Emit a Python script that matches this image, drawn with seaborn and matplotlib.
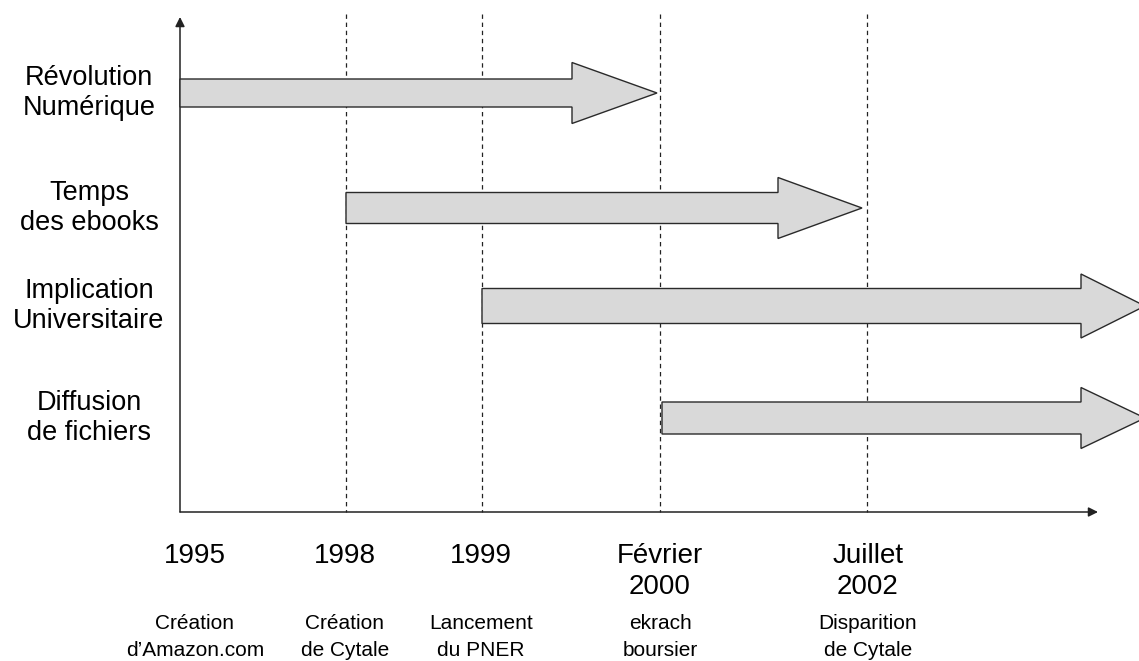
import matplotlib
matplotlib.use("Agg")
import matplotlib.pyplot as plt
import seaborn as sns

# Timeline events (positions, in pixel units of the chart)
event_x = [180, 346, 482, 660, 867]
event_label_x = [195, 345, 481, 660, 868]
event_dates = ["1995", "1998", "1999", "Février\n2000", "Juillet\n2002"]
event_notes = ["Création\nd’Amazon.com", "Création\nde Cytale", "Lancement\ndu PNER",
               "ekrach\nboursier", "Disparition\nde Cytale"]

# Periods drawn as block arrows
period_names = ["Révolution\nNumérique", "Temps\ndes ebooks",
                "Implication\nUniversitaire", "Diffusion\nde fichiers"]
period_y = [93, 208, 306, 418]
period_start = [180, 346, 482, 662]
period_end = [657, 862, 1145, 1145]

# Arrow shapes per row
body_width = [28, 31, 35, 32]
head_width = [61, 61, 64, 61]
head_length = [85, 84, 64, 64]

sns.set_theme(style="white")
plt.rcParams["font.family"] = ["Liberation Sans", "DejaVu Sans"]

W, H = 1139, 661
fig = plt.figure(figsize=(W / 100, H / 100), dpi=100)
ax = fig.add_axes([0, 0, 1, 1])
ax.set_xlim(0, W)
ax.set_ylim(H, 0)
ax.axis("off")

origin_x, origin_y = event_x[0], 512
top_y, right_x = 17, 1098

# dashed guide lines for each event (except the origin)
for x in event_x[1:]:
    ax.plot([x, x], [14, origin_y], color="#222222", lw=0.9,
            linestyle=(0, (3.5, 3)), zorder=1)

# axes with arrowheads
ax.annotate("", xy=(origin_x, top_y), xytext=(origin_x, origin_y),
            arrowprops=dict(arrowstyle="-|>", color="#222222", lw=1.1,
                            mutation_scale=14, shrinkA=0, shrinkB=0))
ax.annotate("", xy=(right_x, origin_y), xytext=(origin_x, origin_y),
            arrowprops=dict(arrowstyle="-|>", color="#222222", lw=1.1,
                            mutation_scale=14, shrinkA=0, shrinkB=0))

# period arrows
for i, name in enumerate(period_names):
    y = period_y[i]
    ax.arrow(period_start[i], y, period_end[i] - period_start[i], 0,
             width=body_width[i], head_width=head_width[i],
             head_length=head_length[i], length_includes_head=True,
             facecolor="#d9d9d9", edgecolor="#2a2a2a", lw=1.0, zorder=3)
    ax.text(89, y, name, ha="center", va="center", fontsize=19.5,
            linespacing=1.2, color="black")

# event labels under the axis
for i in range(len(event_dates)):
    ax.text(event_label_x[i], 543, event_dates[i], ha="center", va="top",
            fontsize=20, linespacing=1.25, color="black")
    ax.text(event_label_x[i], 614, event_notes[i], ha="center", va="top",
            fontsize=15, linespacing=1.5, color="black")

fig.savefig("out.png", dpi=100)
